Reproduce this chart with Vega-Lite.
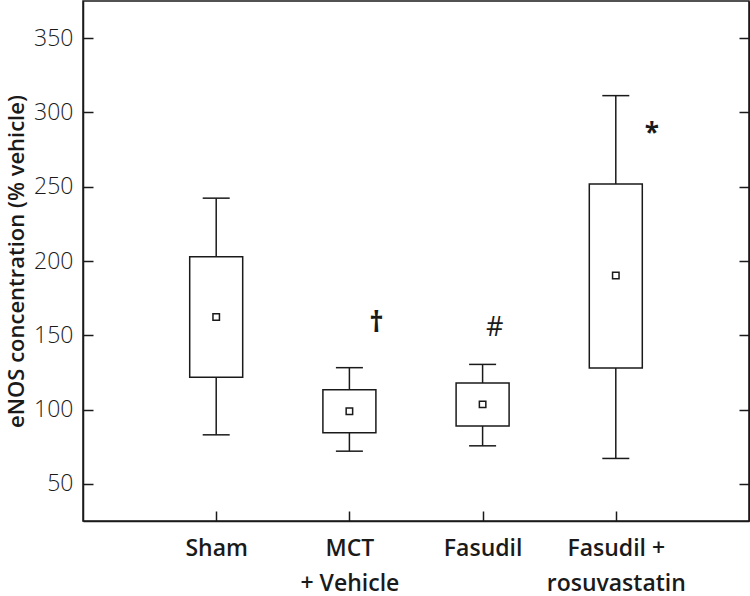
{
  "$schema": "https://vega.github.io/schema/vega-lite/v6.json",
  "width": 666,
  "height": 520,
  "autosize": {"type": "none"},
  "padding": {"left": 83, "top": 1, "right": 1, "bottom": 75},
  "background": "white",
  "view": {"stroke": "#1a1a1a", "strokeWidth": 1.5},
  "config": {"font": "Open Sans"},
  "datasets": {
    "boxes": [
      {"group": "Sham", "lower": 83, "q1": 121.7, "q3": 202.8, "upper": 242.3, "mean": 162.3},
      {"group": "MCT + Vehicle", "lower": 72, "q1": 84.4, "q3": 113.4, "upper": 128.2, "mean": 98.8},
      {"group": "Fasudil", "lower": 75.6, "q1": 88.9, "q3": 117.9, "upper": 130.4, "mean": 103.5},
      {"group": "Fasudil + rosuvastatin", "lower": 67.1, "q1": 128, "q3": 251.8, "upper": 311.3, "mean": 190.2}
    ],
    "notes": [
      {"group": "MCT + Vehicle", "symbol": "†", "value": 157.6},
      {"group": "Fasudil", "symbol": "#", "value": 154.7},
      {"group": "Fasudil + rosuvastatin", "symbol": "*", "value": 285.5}
    ]
  },
  "layer": [
    {
      "data": {"name": "boxes"},
      "mark": {"type": "rule", "color": "#1a1a1a", "strokeWidth": 1.5},
      "encoding": {
        "x": {
          "field": "group", "type": "nominal", "sort": null,
          "scale": {"type": "point", "padding": 1, "domain": ["Sham", "MCT + Vehicle", "Fasudil", "Fasudil + rosuvastatin"]},
          "axis": {
            "orient": "bottom", "title": null, "tickSize": -10, "tickWidth": 1.5, "tickColor": "#1a1a1a",
            "domainColor": "#1a1a1a", "domainWidth": 1.5, "labelAngle": 0,
            "labelFont": "Open Sans", "labelFontSize": 23, "labelFontWeight": 600, "labelColor": "#1a1a1a",
            "labelLineHeight": 35, "labelPadding": 26, "labelBaseline": "top",
            "labelExpr": "datum.label == 'MCT + Vehicle' ? ['MCT', '+ Vehicle'] : datum.label == 'Fasudil + rosuvastatin' ? ['Fasudil +', 'rosuvastatin'] : datum.label"
          }
        },
        "y": {
          "field": "lower", "type": "quantitative",
          "scale": {"domain": [25, 375], "nice": false, "zero": false},
          "axis": {
            "orient": "left", "values": [50, 100, 150, 200, 250, 300, 350], "grid": false,
            "tickSize": -10, "tickWidth": 1.5, "tickColor": "#1a1a1a",
            "domainColor": "#1a1a1a", "domainWidth": 1.5,
            "labelFont": "Open Sans", "labelFontSize": 23, "labelFontWeight": 300, "labelColor": "#1a1a1a", "labelPadding": 20,
            "title": "eNOS concentration (% vehicle)", "titleFont": "Open Sans", "titleFontSize": 22,
            "titleFontWeight": 600, "titleColor": "#1a1a1a", "titlePadding": 5
          }
        },
        "y2": {"field": "upper"}
      }
    },
    {
      "data": {"name": "boxes"},
      "mark": {"type": "bar", "fill": "white", "stroke": "#1a1a1a", "strokeWidth": 1.5, "size": 53},
      "encoding": {
        "x": {"field": "group", "type": "nominal", "sort": null},
        "y": {"field": "q1", "type": "quantitative", "axis": null},
        "y2": {"field": "q3"}
      }
    },
    {
      "data": {"name": "boxes"},
      "mark": {"type": "tick", "orient": "horizontal", "size": 27, "thickness": 1.5, "color": "#1a1a1a", "opacity": 1},
      "encoding": {
        "x": {"field": "group", "type": "nominal", "sort": null},
        "y": {"field": "lower", "type": "quantitative", "axis": null}
      }
    },
    {
      "data": {"name": "boxes"},
      "mark": {"type": "tick", "orient": "horizontal", "size": 27, "thickness": 1.5, "color": "#1a1a1a", "opacity": 1},
      "encoding": {
        "x": {"field": "group", "type": "nominal", "sort": null},
        "y": {
          "field": "upper", "type": "quantitative",
          "axis": {
            "orient": "right", "values": [50, 100, 150, 200, 250, 300, 350], "grid": false,
            "tickSize": -10, "tickWidth": 1.5, "tickColor": "#1a1a1a",
            "domainColor": "#1a1a1a", "domainWidth": 1.5, "labels": false, "title": null
          }
        }
      }
    },
    {
      "data": {"name": "boxes"},
      "mark": {"type": "point", "shape": "square", "size": 42, "filled": true, "fill": "white", "stroke": "#1a1a1a", "strokeWidth": 1.5, "opacity": 1},
      "encoding": {
        "x": {"field": "group", "type": "nominal", "sort": null},
        "y": {"field": "mean", "type": "quantitative", "axis": null}
      }
    },
    {
      "data": {"name": "notes"},
      "transform": [{"filter": "datum.symbol == '†'"}],
      "mark": {"type": "text", "font": "Open Sans", "fontSize": 28, "fontWeight": "bold", "color": "#1a1a1a", "baseline": "middle", "dx": 27},
      "encoding": {
        "x": {"field": "group", "type": "nominal", "sort": null},
        "y": {"field": "value", "type": "quantitative", "axis": null},
        "text": {"field": "symbol"}
      }
    },
    {
      "data": {"name": "notes"},
      "transform": [{"filter": "datum.symbol == '#'"}],
      "mark": {"type": "text", "font": "Open Sans", "fontSize": 27, "color": "#1a1a1a", "baseline": "middle", "dx": 12},
      "encoding": {
        "x": {"field": "group", "type": "nominal", "sort": null},
        "y": {"field": "value", "type": "quantitative", "axis": null},
        "text": {"field": "symbol"}
      }
    },
    {
      "data": {"name": "notes"},
      "transform": [{"filter": "datum.symbol == '*'"}],
      "mark": {"type": "text", "font": "Open Sans", "fontSize": 26, "fontWeight": "bold", "color": "#1a1a1a", "baseline": "middle", "dx": 36},
      "encoding": {
        "x": {"field": "group", "type": "nominal", "sort": null},
        "y": {"field": "value", "type": "quantitative", "axis": null},
        "text": {"field": "symbol"}
      }
    }
  ],
  "resolve": {"axis": {"y": "independent"}}
}
